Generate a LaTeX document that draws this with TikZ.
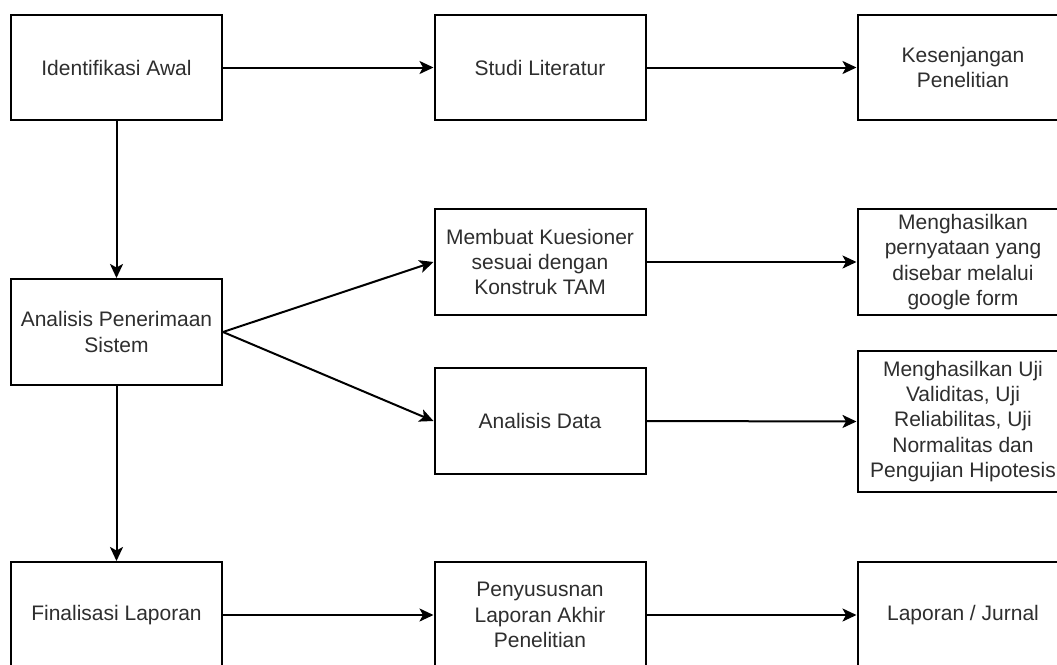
\documentclass[tikz,border=0pt]{standalone}
\usepackage{fontspec}
\setmainfont{Liberation Sans}
\usetikzlibrary{arrows.meta}
\definecolor{txtgray}{HTML}{2E2E2E}
\tikzset{
  box/.style={draw=black, line width=2pt, fill=white, minimum width=211pt, minimum height=105pt,
    inner sep=0pt, align=center, text=txtgray, font=\fontsize{21}{25.2}\selectfont},
  conn/.style={draw=black, line width=2pt, -{Stealth[length=14pt,width=13pt,inset=3.5pt]}}
}
\begin{document}
\begin{tikzpicture}[x=1pt,y=-1pt]
\fill[white] (0,0) rectangle (1057,664);
\useasboundingbox (0,0) rectangle (1057,664);
\begin{scope}
\clip (0,0) rectangle (1057,664);
\node[box] (ia) at (116.5,67.5) {Identifikasi Awal};
\node[box] (sl) at (540,67.5) {Studi Literatur};
\node[box] (kp) at (963,67.5) {Kesenjangan\\Penelitian};
\node[box, minimum height=106pt] (aps) at (116.5,332) {Analisis Penerimaan\\Sistem};
\node[box, minimum height=106pt] (mk) at (540,262) {Membuat Kuesioner\\sesuai dengan\\Konstruk TAM};
\node[box, minimum height=106pt] (ad) at (540,421) {Analisis Data};
\node[box, minimum height=106pt] (mp) at (963,262) {Menghasilkan\\pernyataan yang\\disebar melalui\\google form};
\node[box, minimum height=141pt] (mu) at (963,421.5) {Menghasilkan Uji\\Validitas, Uji\\Reliabilitas, Uji\\Normalitas dan\\Pengujian Hipotesis};
\node[box, minimum height=106pt] (fl) at (116.5,615) {Finalisasi Laporan};
\node[box, minimum height=106pt] (pl) at (540,615) {Penyususnan\\Laporan Akhir\\Penelitian};
\node[box, minimum height=106pt] (lj) at (963,615) {Laporan / Jurnal};
\draw[conn] (ia) -- (sl);
\draw[conn] (sl) -- (kp);
\draw[conn] (ia) -- (aps);
\draw[conn] (aps.east) -- (mk.west);
\draw[conn] (aps.east) -- (ad.west);
\draw[conn] (mk) -- (mp);
\draw[conn] (ad.east) -- (mu.west);
\draw[conn] (aps) -- (fl);
\draw[conn] (fl) -- (pl);
\draw[conn] (pl) -- (lj);
\end{scope}
\end{tikzpicture}
\end{document}
